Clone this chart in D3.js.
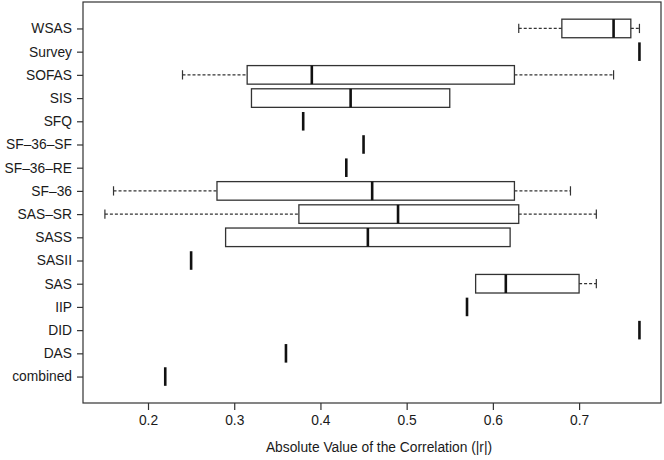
<!DOCTYPE html>
<html>
<head>
<meta charset="utf-8">
<script src="https://cdn.jsdelivr.net/npm/d3@7"></script>
<style>
  body { margin: 0; background: #fff; }
  text { font-family: "Liberation Sans", Arial, sans-serif; fill: #1a1a1a; }
</style>
</head>
<body>
<svg id="chart" width="664" height="460"></svg>
<script>
// measures, top to bottom as drawn
const scales = ["WSAS", "Survey", "SOFAS", "SIS", "SFQ", "SF\u201336\u2013SF", "SF\u201336\u2013RE", "SF\u201336",
                "SAS\u2013SR", "SASS", "SASII", "SAS", "IIP", "DID", "DAS", "combined"];
// five number summaries (lo whisker, q1, median, q3, hi whisker)
const lows    = [0.63, 0.77, 0.24, 0.32, 0.38, 0.45, 0.43, 0.16, 0.15, 0.29, 0.25, 0.58, 0.57, 0.77, 0.36, 0.22];
const q1s     = [0.68, 0.77, 0.315, 0.32, 0.38, 0.45, 0.43, 0.28, 0.375, 0.29, 0.25, 0.58, 0.57, 0.77, 0.36, 0.22];
const medians = [0.74, 0.77, 0.39, 0.435, 0.38, 0.45, 0.43, 0.46, 0.49, 0.455, 0.25, 0.615, 0.57, 0.77, 0.36, 0.22];
const q3s     = [0.76, 0.77, 0.625, 0.55, 0.38, 0.45, 0.43, 0.625, 0.63, 0.62, 0.25, 0.70, 0.57, 0.77, 0.36, 0.22];
const highs   = [0.77, 0.77, 0.74, 0.55, 0.38, 0.45, 0.43, 0.69, 0.72, 0.62, 0.25, 0.72, 0.57, 0.77, 0.36, 0.22];
const xTicks = [0.2, 0.3, 0.4, 0.5, 0.6, 0.7];

const rows = scales.map((s, i) => ({name: s, lo: lows[i], q1: q1s[i], med: medians[i], q3: q3s[i], hi: highs[i]}));

var margin = {top: 2, right: 3, bottom: 57, left: 83};
var W = 664, H = 460;
var fs = 13.8;

const svg = d3.select("#chart");

const x = d3.scaleLinear().domain([0.1246, 0.795]).range([margin.left, W - margin.right]);
const y = d3.scalePoint().domain(scales).range([margin.top, H - margin.bottom]).padding(1.14);
const half = y.step() * 0.4;     // boxwex 0.8
const stapleHalf = half * 0.5;

// frame
svg.append("rect")
  .attr("x", margin.left).attr("y", margin.top)
  .attr("width", W - margin.left - margin.right)
  .attr("height", H - margin.top - margin.bottom)
  .attr("fill", "none").attr("stroke", "#333").attr("stroke-width", 1.2);

// axes
const xAxis = svg.append("g")
  .attr("transform", `translate(0,${H - margin.bottom})`)
  .call(d3.axisBottom(x).tickValues(xTicks).tickFormat(d3.format(".1f")).tickSize(7).tickPadding(5));
xAxis.select(".domain").remove();
xAxis.selectAll("line").attr("stroke", "#333").attr("stroke-width", 1.2);
xAxis.selectAll("text").attr("font-size", fs).attr("fill", "#1a1a1a");

const yAxis = svg.append("g")
  .attr("transform", `translate(${margin.left},0)`)
  .call(d3.axisLeft(y).tickSize(6).tickPadding(5));
yAxis.select(".domain").remove();
yAxis.selectAll("line").attr("stroke", "#333").attr("stroke-width", 1.2);
yAxis.selectAll("text").attr("font-size", fs).attr("fill", "#1a1a1a");

svg.append("text")
  .attr("x", (margin.left + W - margin.right) / 2 + 7)
  .attr("y", 452)
  .attr("text-anchor", "middle")
  .attr("font-size", fs)
  .text("Absolute Value of the Correlation (|r|)");

const g = svg.append("g").selectAll("g").data(rows).join("g")
  .attr("transform", d => `translate(0,${y(d.name)})`);

// whiskers
g.filter(d => d.lo < d.q1).append("line")
  .attr("x1", d => x(d.lo)).attr("x2", d => x(d.q1))
  .attr("stroke", "#333").attr("stroke-width", 1.2).attr("stroke-dasharray", "3,2");
g.filter(d => d.hi > d.q3).append("line")
  .attr("x1", d => x(d.q3)).attr("x2", d => x(d.hi))
  .attr("stroke", "#333").attr("stroke-width", 1.2).attr("stroke-dasharray", "3,2");
g.filter(d => d.lo < d.q1).append("line")
  .attr("x1", d => x(d.lo)).attr("x2", d => x(d.lo))
  .attr("y1", -stapleHalf).attr("y2", stapleHalf).attr("stroke", "#333").attr("stroke-width", 1.2);
g.filter(d => d.hi > d.q3).append("line")
  .attr("x1", d => x(d.hi)).attr("x2", d => x(d.hi))
  .attr("y1", -stapleHalf).attr("y2", stapleHalf).attr("stroke", "#333").attr("stroke-width", 1.2);

// boxes
g.filter(d => d.q3 > d.q1).append("rect")
  .attr("x", d => x(d.q1)).attr("width", d => x(d.q3) - x(d.q1))
  .attr("y", -half).attr("height", 2 * half)
  .attr("fill", "none").attr("stroke", "#333").attr("stroke-width", 1.3);

// medians
g.append("line")
  .attr("x1", d => x(d.med)).attr("x2", d => x(d.med))
  .attr("y1", -half).attr("y2", half)
  .attr("stroke", "#111").attr("stroke-width", 2.6);
</script>
</body>
</html>
